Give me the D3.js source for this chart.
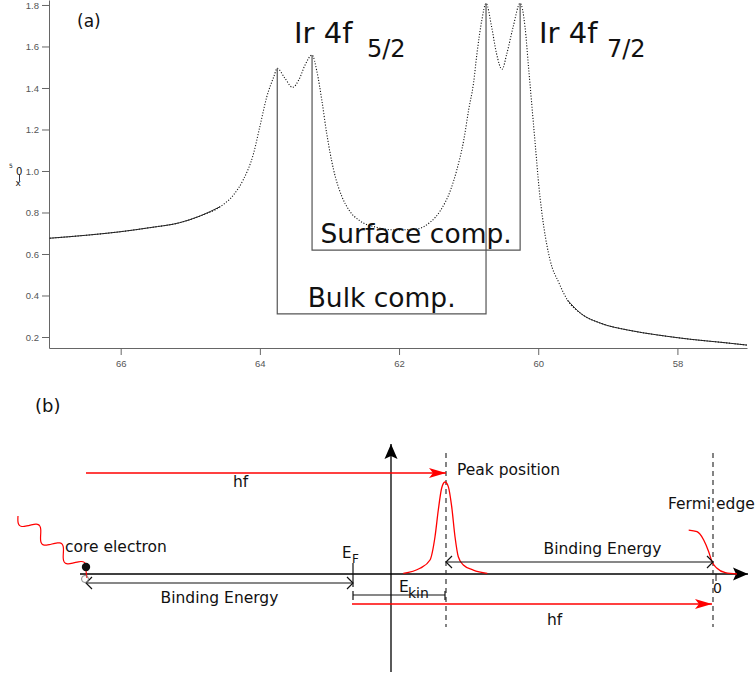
<!DOCTYPE html>
<html>
<head>
<meta charset="utf-8">
<script src="https://cdn.jsdelivr.net/npm/d3@7"></script>
<style>
  html, body { margin: 0; padding: 0; background: #fff; }
  svg { display: block; }
  text { font-family: "DejaVu Sans", sans-serif; fill: #111; }
  .axis .tick text { font-family: "Liberation Sans", Arial, sans-serif; font-size: 9.5px; fill: #555; }
  .axis .tick line, .axis .domain { stroke: #666; }
</style>
</head>
<body>
<svg id="fig" width="755" height="678"></svg>
<script>
// ---- panel (a): Ir 4f spectrum ----
const bindingEnergy = [67.02, 66.44, 66.01, 65.58, 65.15, 64.86, 64.57, 64.38, 64.24, 64.09,
  64.00, 63.90, 63.80, 63.75, 63.64, 63.53, 63.44, 63.35, 63.25, 63.18, 63.11, 63.04, 62.94,
  62.82, 62.72, 62.56, 62.34, 62.05, 61.76, 61.55, 61.41, 61.26, 61.17, 61.07, 61.00, 60.93,
  60.88, 60.81, 60.75, 60.67, 60.60, 60.52, 60.45, 60.36, 60.26, 60.19, 60.14, 60.09, 60.04,
  59.99, 59.92, 59.83, 59.70, 59.58, 59.39, 59.10, 58.72, 58.29, 57.81, 57.33, 57.00];
const intensity = [0.676, 0.692, 0.707, 0.727, 0.751, 0.783, 0.828, 0.884, 0.957, 1.085,
  1.214, 1.358, 1.454, 1.495, 1.447, 1.403, 1.439, 1.511, 1.559, 1.479, 1.342, 1.182, 1.005,
  0.876, 0.812, 0.759, 0.730, 0.716, 0.720, 0.754, 0.807, 0.908, 1.005, 1.149, 1.294, 1.423,
  1.567, 1.728, 1.808, 1.695, 1.567, 1.490, 1.567, 1.695, 1.808, 1.695, 1.503, 1.310, 1.117,
  0.924, 0.732, 0.571, 0.459, 0.378, 0.314, 0.266, 0.234, 0.210, 0.189, 0.173, 0.161];
const xTicks = [66, 64, 62, 60, 58];
const yTicks = [0.2, 0.4, 0.6, 0.8, 1.0, 1.2, 1.4, 1.6, 1.8];

const componentNames = ["Bulk comp.", "Surface comp."];
const componentPeakBE = [[63.75, 60.75], [63.25, 60.26]];
const componentPeakI = [[1.495, 1.808], [1.559, 1.808]];
const componentLevel = [0.311, 0.619];

// ---- panel (b): photoemission schematic (arbitrary energy units) ----
const photonEnergy = 3.6;
const coreBinding = 2.67;
const kineticEnergy = photonEnergy - coreBinding;
const peakShapeE = [0.503, 0.67, 0.77, 0.82, 0.853, 0.887, 0.92, 0.953, 0.987, 1.02, 1.053, 1.103, 1.203, 1.343];
const peakShapeI = [0.007, 0.062, 0.152, 0.405, 0.696, 0.935, 1.0, 0.95, 0.732, 0.405, 0.188, 0.098, 0.043, 0.007];
const fermiShapeE = [3.357, 3.44, 3.507, 3.557, 3.59, 3.64, 3.723, 3.84];
const fermiShapeI = [0.478, 0.46, 0.37, 0.242, 0.134, 0.062, 0.014, 0.0];

(function () {
  const svg = d3.select("#fig");

  // ===== (a) =====
  const x = d3.scaleLinear().domain([67.03, 57.0]).range([49, 747]);
  const y = d3.scaleLinear().domain([0.147, 1.824]).range([348, 0]);

  const gA = svg.append("g");

  gA.append("g")
    .attr("class", "axis")
    .attr("transform", "translate(0,348)")
    .call(d3.axisBottom(x).tickValues(xTicks).tickSize(7).tickSizeOuter(0).tickPadding(5));

  gA.append("g")
    .attr("class", "axis")
    .attr("transform", "translate(49,0)")
    .call(d3.axisLeft(y).tickValues(yTicks).tickFormat(d3.format(".1f")).tickSize(7).tickSizeOuter(0).tickPadding(3));

  // odd rotated unit label on the y axis
  const yl = gA.append("g").attr("fill", "#334");
  yl.append("text").attr("x", 9).attr("y", 168).attr("font-size", 6).text("5");
  yl.append("text").attr("x", 16).attr("y", 175).attr("font-size", 10).text("0");
  yl.append("line").attr("x1", 19.5).attr("x2", 19.5).attr("y1", 175).attr("y2", 181)
    .attr("stroke", "#334").attr("stroke-width", 1);
  yl.append("text").attr("x", 15.5).attr("y", 186).attr("font-size", 9).text("x");

  const spectrum = bindingEnergy.map((e, i) => ({ e, v: intensity[i] }));
  const specLine = d3.line().x((d) => x(d.e)).y((d) => y(d.v)).curve(d3.curveMonotoneX);

  gA.append("path")
    .datum(spectrum)
    .attr("fill", "none")
    .attr("stroke", "#111")
    .attr("stroke-width", 1.1)
    .attr("stroke-dasharray", "1.1,1.7")
    .attr("d", specLine);

  // slowly varying tails look nearly solid in the measured data
  [spectrum.filter((d) => d.e >= 64.5), spectrum.filter((d) => d.e <= 59.6)].forEach((part) => {
    gA.append("path")
      .datum(part)
      .attr("fill", "none")
      .attr("stroke", "#222")
      .attr("stroke-width", 1)
      .attr("d", specLine);
  });

  // component brackets
  componentNames.forEach((name, i) => {
    const [e1, e2] = componentPeakBE[i];
    const [v1, v2] = componentPeakI[i];
    const lv = y(componentLevel[i]);
    gA.append("path")
      .attr("fill", "none")
      .attr("stroke", "#555")
      .attr("stroke-width", 1.2)
      .attr("d", `M${x(e1)},${y(v1)} V${lv} H${x(e2)} V${y(v2)}`);
    gA.append("text")
      .attr("x", (x(e1) + x(e2)) / 2)
      .attr("y", lv - 7)
      .attr("text-anchor", "middle")
      .attr("font-size", 26.5)
      .text(name);
  });

  gA.append("text").attr("x", 77).attr("y", 27).attr("font-size", 17).text("(a)");

  const lineTitles = [
    { main: "Ir 4f", sub: "5/2", x: 294, subX: 367 },
    { main: "Ir 4f", sub: "7/2", x: 539, subX: 607 }
  ];
  lineTitles.forEach((t) => {
    gA.append("text").attr("x", t.x).attr("y", 43).attr("font-size", 29).text(t.main);
    gA.append("text").attr("x", t.subX).attr("y", 57).attr("font-size", 24).text(t.sub);
  });

  // ===== (b) =====
  const xb = d3.scaleLinear().domain([-coreBinding, photonEnergy]).range([86, 713]);
  const yb = d3.scaleLinear().domain([0, 1]).range([574, 482]);
  const gB = svg.append("g");
  const baseY = yb(0);

  const defs = svg.append("defs");
  defs.append("marker")
    .attr("id", "chev")
    .attr("viewBox", "-8 -7 10 14")
    .attr("markerWidth", 10).attr("markerHeight", 14)
    .attr("markerUnits", "userSpaceOnUse")
    .attr("orient", "auto-start-reverse")
    .append("path")
    .attr("d", "M-6,-6 L0,0 L-6,6")
    .attr("fill", "none").attr("stroke", "#111").attr("stroke-width", 1.2);
  defs.append("marker")
    .attr("id", "redHead")
    .attr("viewBox", "-18 -6 19 12")
    .attr("markerWidth", 19).attr("markerHeight", 12)
    .attr("markerUnits", "userSpaceOnUse")
    .attr("orient", "auto")
    .append("path")
    .attr("d", "M0,0 L-17,-5 L-13,0 L-17,5 Z")
    .attr("fill", "red");
  defs.append("marker")
    .attr("id", "blackHead")
    .attr("viewBox", "-16 -7 17 14")
    .attr("markerWidth", 17).attr("markerHeight", 14)
    .attr("markerUnits", "userSpaceOnUse")
    .attr("orient", "auto")
    .append("path")
    .attr("d", "M0,0 L-15,-6.5 L-12,0 L-15,6.5 Z")
    .attr("fill", "#000");

  gB.append("text").attr("x", 35).attr("y", 412).attr("font-size", 18).text("(b)");

  const origin = xb(0.38);

  // axes of the spectrum sketch
  gB.append("line")
    .attr("x1", xb(-coreBinding) - 6).attr("x2", xb(3.95))
    .attr("y1", baseY).attr("y2", baseY)
    .attr("stroke", "#000").attr("stroke-width", 1.3)
    .attr("marker-end", "url(#blackHead)");
  gB.append("line")
    .attr("x1", origin).attr("x2", origin)
    .attr("y1", 672).attr("y2", 444)
    .attr("stroke", "#000").attr("stroke-width", 1.3)
    .attr("marker-end", "url(#blackHead)");

  // dashed guides at peak and Fermi edge
  [kineticEnergy, photonEnergy].forEach((e) => {
    gB.append("line")
      .attr("x1", xb(e)).attr("x2", xb(e))
      .attr("y1", 453).attr("y2", 627)
      .attr("stroke", "#333").attr("stroke-width", 1.2)
      .attr("stroke-dasharray", "5,4");
  });

  // red spectra shapes
  const redLine = d3.line().x((d) => xb(d[0])).y((d) => yb(d[1])).curve(d3.curveMonotoneX);
  gB.append("path")
    .datum(peakShapeE.map((e, i) => [e, peakShapeI[i]]))
    .attr("fill", "none").attr("stroke", "red").attr("stroke-width", 1.3)
    .attr("d", redLine);
  gB.append("path")
    .datum(fermiShapeE.map((e, i) => [e, fermiShapeI[i]]))
    .attr("fill", "none").attr("stroke", "red").attr("stroke-width", 1.3)
    .attr("d", redLine);

  // photon arrows
  gB.append("line")
    .attr("x1", xb(-coreBinding)).attr("x2", xb(kineticEnergy))
    .attr("y1", 473).attr("y2", 473)
    .attr("stroke", "red").attr("stroke-width", 1.3)
    .attr("marker-end", "url(#redHead)");
  gB.append("text").attr("x", 233).attr("y", 487).attr("font-size", 15.5).text("hf");

  gB.append("line")
    .attr("x1", xb(0) - 1).attr("x2", xb(photonEnergy) - 1)
    .attr("y1", 604).attr("y2", 604)
    .attr("stroke", "red").attr("stroke-width", 1.3)
    .attr("marker-end", "url(#redHead)");
  gB.append("text").attr("x", 547).attr("y", 625).attr("font-size", 15.5).text("hf");

  // binding energy arrows
  gB.append("line")
    .attr("x1", xb(-coreBinding)).attr("x2", xb(0))
    .attr("y1", 583).attr("y2", 583)
    .attr("stroke", "#111").attr("stroke-width", 1.2)
    .attr("marker-start", "url(#chev)").attr("marker-end", "url(#chev)");
  gB.append("text").attr("x", (xb(-coreBinding) + xb(0)) / 2).attr("y", 603)
    .attr("text-anchor", "middle").attr("font-size", 15.5).text("Binding Energy");

  gB.append("line")
    .attr("x1", xb(kineticEnergy)).attr("x2", xb(photonEnergy))
    .attr("y1", 562).attr("y2", 562)
    .attr("stroke", "#111").attr("stroke-width", 1.2)
    .attr("marker-start", "url(#chev)").attr("marker-end", "url(#chev)");
  gB.append("text").attr("x", (xb(kineticEnergy) + xb(photonEnergy)) / 2 + 23).attr("y", 554)
    .attr("text-anchor", "middle").attr("font-size", 15.5).text("Binding Energy");

  // E_F marker
  gB.append("line")
    .attr("x1", xb(0)).attr("x2", xb(0)).attr("y1", 563).attr("y2", 587)
    .attr("stroke", "#111").attr("stroke-width", 1.2);
  gB.append("text").attr("x", 342).attr("y", 558).attr("font-size", 15).text("E");
  gB.append("text").attr("x", 352).attr("y", 563).attr("font-size", 12).text("F");

  // E_kin bar
  gB.append("path")
    .attr("fill", "none").attr("stroke", "#111").attr("stroke-width", 1.2)
    .attr("d", `M${xb(0)},591 V600 M${xb(0)},595 H${xb(kineticEnergy) - 1} M${xb(kineticEnergy) - 1},591 V600`);
  gB.append("text").attr("x", 399).attr("y", 592).attr("font-size", 15.5).text("E");
  gB.append("text").attr("x", 408).attr("y", 598).attr("font-size", 14).text("kin");

  // zero mark
  gB.append("line")
    .attr("x1", xb(photonEnergy) + 3).attr("x2", xb(photonEnergy) + 3)
    .attr("y1", baseY).attr("y2", baseY + 7)
    .attr("stroke", "#111").attr("stroke-width", 1);
  gB.append("text").attr("x", 713).attr("y", 593).attr("font-size", 14).text("0");

  gB.append("text").attr("x", 457).attr("y", 475).attr("font-size", 15.5).text("Peak position");
  gB.append("text").attr("x", 668).attr("y", 509).attr("font-size", 15.5).text("Fermi edge");

  // incoming photon (wavy) and core electron
  const cx = xb(-coreBinding);
  const start = [18, 516];
  const end = [cx, 572];
  const dx = end[0] - start[0], dy = end[1] - start[1];
  const len = Math.hypot(dx, dy);
  const px = dy / len, py = -dx / len;
  const wave = d3.range(0, 1.0001, 0.02).map((t) => {
    const a = -6.5 * Math.sin(2 * Math.PI * 3 * t);
    return [start[0] + dx * t + px * a, start[1] + dy * t + py * a];
  });
  wave.push([cx + 1, 578]);
  gB.append("path")
    .datum(wave)
    .attr("fill", "none").attr("stroke", "red").attr("stroke-width", 1.2)
    .attr("d", d3.line().curve(d3.curveBasis));

  gB.append("circle").attr("cx", cx - 1).attr("cy", 579).attr("r", 3.5)
    .attr("fill", "none").attr("stroke", "#888").attr("stroke-width", 1);
  gB.append("circle").attr("cx", cx).attr("cy", 567).attr("r", 4.2).attr("fill", "#111");
  gB.append("text").attr("x", 65).attr("y", 552).attr("font-size", 15.5).text("core electron");
})();
</script>
</body>
</html>
